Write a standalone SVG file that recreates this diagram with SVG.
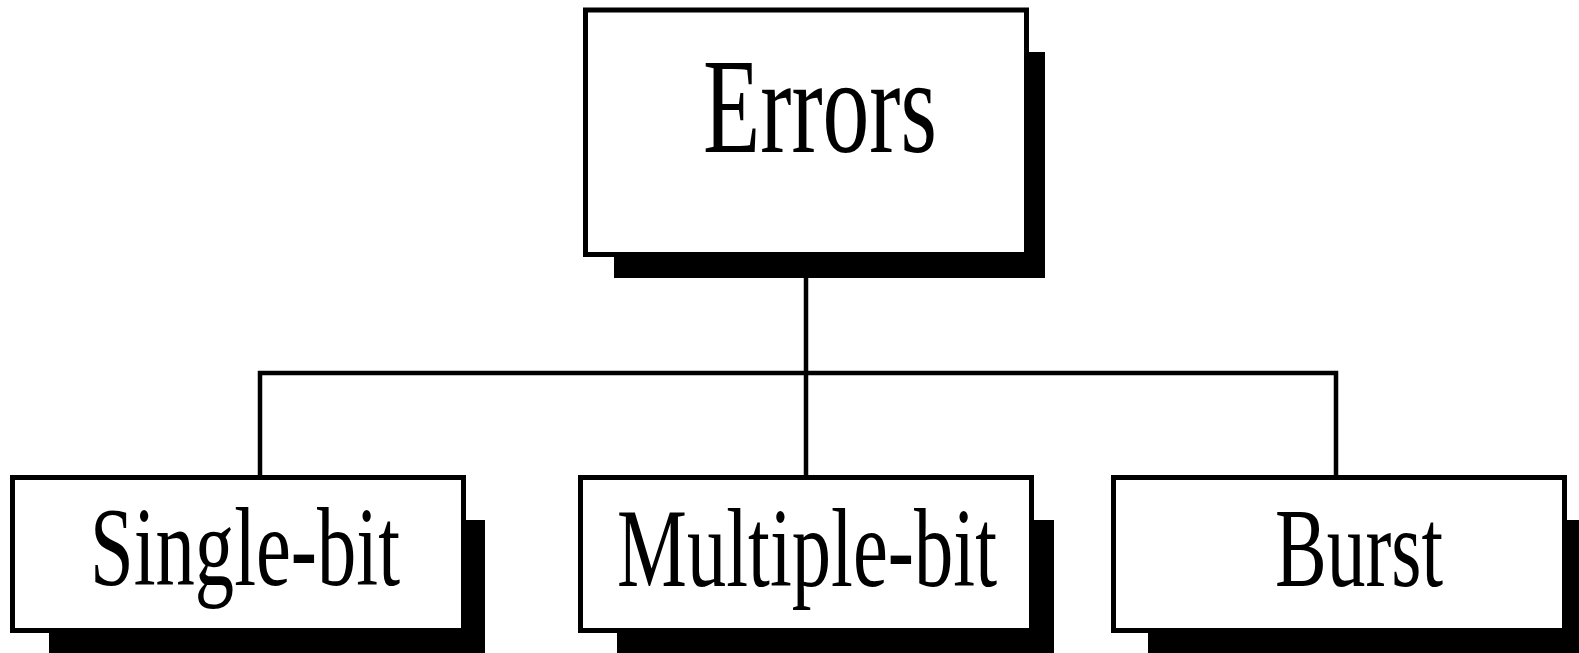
<svg xmlns="http://www.w3.org/2000/svg" width="1579" height="653" viewBox="0 0 1579 653">
<style>
.shadow{fill:#000;stroke:none}
.box{fill:#fff;stroke:#000;stroke-width:5}
.lbl{font-family:"Liberation Serif","Times New Roman",serif;fill:#000}
.big{font-size:136px}
.small{font-size:113px}
.conn{stroke:#000;stroke-width:4.5;fill:none}
</style>
<rect width="1579" height="653" fill="#fff"/>
<g id="connectors">
<line class="conn" x1="806" y1="278" x2="806" y2="476"/>
<polyline class="conn" points="260,476 260,373 1336,373 1336,476"/>
</g>
<g id="errors">
<rect class="shadow" x="614" y="52" width="431" height="226"/>
<rect class="box" x="585.5" y="10" width="441" height="244.5"/>
<text class="lbl big" x="703" y="152" textLength="234" lengthAdjust="spacingAndGlyphs">Errors</text>
</g>
<g id="single-bit">
<rect class="shadow" x="49" y="520" width="436" height="133"/>
<rect class="box" x="12.5" y="477.5" width="451" height="153"/>
<text class="lbl small" x="90" y="585" textLength="310" lengthAdjust="spacingAndGlyphs">Single-bit</text>
</g>
<g id="multiple-bit">
<rect class="shadow" x="617" y="520" width="437" height="133"/>
<rect class="box" x="580.5" y="477.5" width="451" height="153"/>
<text class="lbl small" x="617" y="586" textLength="380" lengthAdjust="spacingAndGlyphs">Multiple-bit</text>
</g>
<g id="burst">
<rect class="shadow" x="1148" y="520" width="431" height="133"/>
<rect class="box" x="1113.5" y="477.5" width="451" height="153"/>
<text class="lbl small" x="1275" y="586" textLength="168" lengthAdjust="spacingAndGlyphs">Burst</text>
</g>
</svg>
